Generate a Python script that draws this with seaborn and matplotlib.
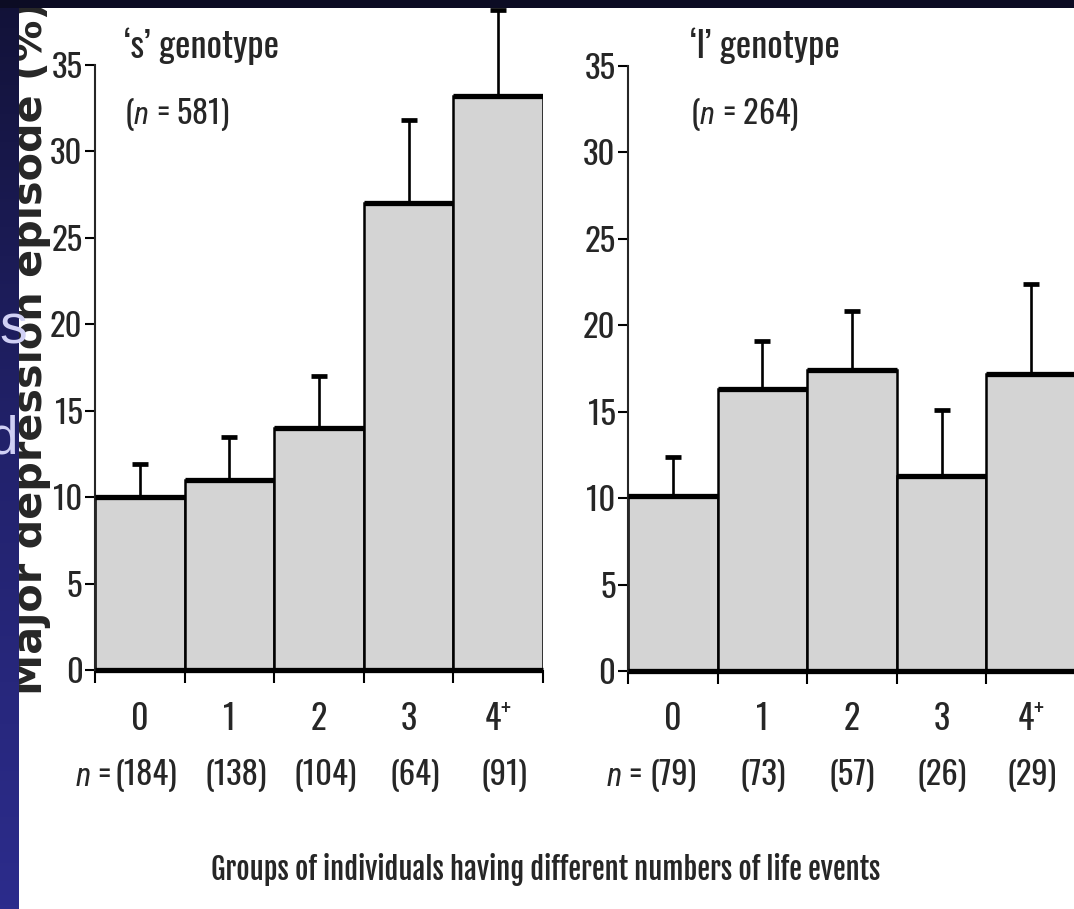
import numpy as np
import matplotlib
matplotlib.use("Agg")
import matplotlib.pyplot as plt
from matplotlib import font_manager as fm
from matplotlib.colors import LinearSegmentedColormap
from matplotlib.textpath import TextPath
import matplotlib.transforms as mtrans
import seaborn as sns

# ---------------- data ----------------
categories = ["0", "1", "2", "3", "4$^{+}$"]
s_values = [10.0, 11.0, 14.0, 27.0, 33.2]
s_err_upper = [1.9, 2.5, 3.0, 4.8, 5.0]
s_n = ["(184)", "(138)", "(104)", "(64)", "(91)"]
l_values = [10.1, 16.3, 17.4, 11.3, 17.2]
l_err_upper = [2.3, 2.8, 3.4, 3.8, 5.2]
l_n = ["(79)", "(73)", "(57)", "(26)", "(29)"]
y_ticks = [0, 5, 10, 15, 20, 25, 30, 35]
panel_titles = ["\u2018s\u2019 genotype", "\u2018l\u2019 genotype"]
panel_totals = ["581", "264"]
ylabel = "Major depression episode (%)"
xlabel = "Groups of individuals having different numbers of life events"

sns.set_style("ticks")

FONTS = fm.fontManager.ttflist


def has(fam, cond=lambda f: True):
    return any(f.name == fam and cond(f) for f in FONTS)


def pick(cands):
    for c in cands:
        if has(c):
            return c
    return "DejaVu Sans"


def wt(f):
    return f.weight if isinstance(f.weight, int) else 400


NARROW = pick(["Oswald", "Antonio", "Barlow Condensed", "Roboto Condensed"])
ITAL = next((c for c in ["Roboto Condensed", "Barlow Condensed", "Liberation Sans"]
             if has(c, lambda f: f.style == "italic")), NARROW)

plt.rcParams["font.family"] = [NARROW, "DejaVu Sans"]
plt.rcParams["mathtext.fontset"] = "custom"
plt.rcParams["mathtext.rm"] = NARROW
plt.rcParams["mathtext.it"] = ITAL + ":italic"
plt.rcParams["mathtext.bf"] = NARROW + ":bold"

DPI = 100
W, H = 1074, 909


def ink(s, family=None, **kw):
    fp = fm.FontProperties(family=[family or NARROW, "DejaVu Sans"], **kw)
    return TextPath((0, 0), s, size=100, prop=fp).get_extents()


def size_h(s, px, **kw):
    return px / (ink(s, **kw).height / 100) * 72 / DPI


def size_w(s, px, **kw):
    return px / (ink(s, **kw).width / 100) * 72 / DPI


def closest(cands, text, ref_glyph, target, weight):
    best = None
    for fam, cond in cands:
        if not has(fam, cond):
            continue
        r = ink(text, family=fam, weight=weight).width / \
            ink(ref_glyph, family=fam, weight=weight).height
        sc = abs(r - target)
        if best is None or sc < best[0]:
            best = (sc, fam)
    return best[1] if best else "DejaVu Sans"


bold_ok = lambda f: wt(f) >= 700
any_ok = lambda f: True
# bold condensed title font: width / cap height closest to the reference
TBOLD = closest([("Oswald", bold_ok), ("Antonio", bold_ok),
                 ("Saira Extra Condensed", bold_ok),
                 ("Sofia Sans Extra Condensed", bold_ok),
                 ("Barlow Condensed", bold_ok), ("Saira Condensed", bold_ok),
                 ("Sofia Sans Condensed", bold_ok), ("Asap Condensed", bold_ok),
                 ("Fjalla One", any_ok), ("Roboto Condensed", bold_ok)],
                xlabel, "H", 668 / 26.0, "bold")

# rotated label font: heavy sans, length / x-height closest to the reference
YL_LEN, YL_XH = 686.0, 21.5
YLF = closest([("DejaVu Sans", bold_ok), ("Archivo Black", bold_ok),
               ("Montserrat", bold_ok), ("Poppins", bold_ok)],
              ylabel, "x", YL_LEN / YL_XH, "bold")

FS_Y = size_h("0123456789", 27)
FS_X = size_h("0123", 28)
FS_N = size_h("0123456789", 27)
FS_G = size_w(panel_titles[0], 152)
FS_GN = size_w("(n = 581)", 100)
FS_T = size_w(xlabel, 668, family=TBOLD, weight="bold")
FS_YL = size_w(ylabel, YL_LEN, family=YLF, weight="bold")

fig = plt.figure(figsize=(W / DPI, H / DPI), dpi=DPI)
fig.patch.set_facecolor("white")

BAR = "#d4d4d4"


def panel(left_px, zero_px, values, errs, nlabels, title, total, txt_frac,
          nx, noff):
    ax = fig.add_axes([left_px / W, (H - zero_px) / H, 448 / W, 605 / H])
    ax.set_facecolor("none")
    sns.barplot(x=categories, y=values, ax=ax, color=BAR, saturation=1,
                edgecolor="black", linewidth=1.8, width=1.0, errorbar=None,
                zorder=2)
    xs = np.arange(len(values))
    ax.errorbar(xs, values, yerr=[np.zeros(len(errs)), errs], fmt="none",
                ecolor="black", elinewidth=1.9, capsize=6, capthick=3.4,
                clip_on=False, zorder=5)
    ax.hlines(values, xs - 0.5, xs + 0.5, colors="black", lw=3.8, zorder=4)
    ax.hlines(0, -0.5, len(values) - 0.5, colors="black", lw=3.8,
              zorder=6, clip_on=False)
    ax.set_xlim(-0.5, len(values) - 0.5)
    ax.set_ylim(0, 35)
    for s in ["top", "right", "bottom"]:
        ax.spines[s].set_visible(False)
    ax.spines["left"].set_linewidth(1.5)
    ax.spines["left"].set_bounds(0, 35)
    ax.set_yticks(y_ticks)
    ax.set_yticklabels([str(t) for t in y_ticks], fontsize=FS_Y)
    ax.tick_params(axis="y", length=7, width=1.5, pad=2, color="black")
    ax.set_xticks(xs)
    ax.set_xticklabels(categories, fontsize=FS_X)
    for lab in ax.get_xticklabels():
        lab.set_va("center")
    ax.tick_params(axis="x", which="major", length=0, pad=(719 - zero_px) * 0.72)
    ax.set_xticks(np.arange(-0.5, len(values)), minor=True)
    ax.tick_params(axis="x", which="minor", length=9, width=1.5,
                   direction="out", color="black")
    ax.set_xlabel("")
    ax.set_ylabel("")
    ax.text(txt_frac, (zero_px - 58) / 605, title, transform=ax.transAxes,
            fontsize=FS_G, va="baseline", ha="left")
    ax.text(txt_frac, (zero_px - 124) / 605, "($\\mathit{n}$ = " + total + ")",
            transform=ax.transAxes, fontsize=FS_GN, va="baseline", ha="left")
    trans = mtrans.blended_transform_factory(ax.transData, fig.transFigure)
    ny = (H - 776) / H
    for x, lab in zip(xs, nlabels):
        ax.text(x + noff, ny, lab, transform=trans, fontsize=FS_N,
                ha="center", va="center")
    ax.text(nx, ny, "$\\mathit{n}$ =", transform=trans, fontsize=FS_N,
            ha="right", va="center")
    return ax


axL = panel(95, 670, s_values, s_err_upper, s_n, panel_titles[0],
            panel_totals[0], 0.065, -0.32, 0.07)
axR = panel(628, 671, l_values, l_err_upper, l_n, panel_titles[1],
            panel_totals[1], 0.138, -0.34, 0.0)

# y label: baseline at x = 42 px, centred vertically on the reference span
fig.text(42 / W, (H - 348) / H, ylabel, rotation=90, rotation_mode="anchor",
         ha="center", va="baseline", fontweight="bold",
         family=[YLF, "DejaVu Sans"], fontsize=FS_YL)

# x title
fig.text(546 / W, (H - 880) / H, xlabel, ha="center", va="baseline",
         fontweight="bold", family=[TBOLD, "DejaVu Sans"], fontsize=FS_T)

# slide background remnants
grad = np.linspace(0, 1, 256).reshape(-1, 1)
cmap = LinearSegmentedColormap.from_list("slide", ["#2c2c8c", "#22226c", "#121238"])
sax = fig.add_axes([0, 0, 19 / W, 1], zorder=10)
sax.imshow(grad, aspect="auto", cmap=cmap, extent=[0, 1, 0, 1], origin="lower")
sax.axis("off")
tax = fig.add_axes([0, 1 - 8 / H, 1, 8 / H], zorder=11)
tax.set_facecolor("#0c0c24")
tax.set_xticks([]); tax.set_yticks([])
for s in tax.spines.values():
    s.set_visible(False)
fig.text(27 / W, (H - 329) / H, "s", color="#d0d0f4", fontsize=40,
         ha="right", va="center", family=["Liberation Sans"], zorder=20)
fig.text(18 / W, (H - 440) / H, "d", color="#d0d0f4", fontsize=38,
         ha="right", va="center", family=["Liberation Sans"], zorder=20)

fig.savefig("out.png", dpi=DPI)
